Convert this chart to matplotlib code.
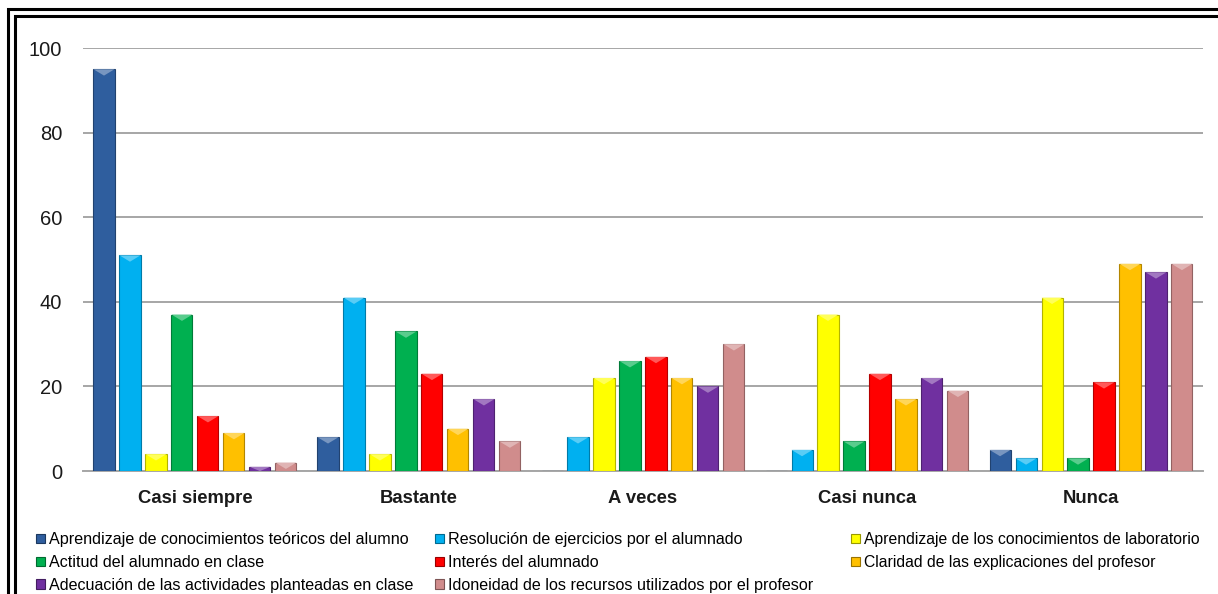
import matplotlib.pyplot as plt
import numpy as np
from matplotlib.patches import Patch, Polygon, Rectangle
from matplotlib.colors import to_rgb

plt.rcParams['font.family'] = ['Liberation Sans', 'DejaVu Sans']

categories = ['Casi siempre', 'Bastante', 'A veces', 'Casi nunca', 'Nunca']
series_names = [
    'Aprendizaje de conocimientos teóricos del alumno',
    'Resolución de ejercicios por el alumnado',
    'Aprendizaje de los conocimientos de laboratorio',
    'Actitud del alumnado en clase',
    'Interés del alumnado',
    'Claridad de las explicaciones del profesor',
    'Adecuación de las actividades planteadas en clase',
    'Idoneidad de los recursos utilizados por el profesor',
]
teoricos = [95, 8, 0, 0, 5]
ejercicios = [51, 41, 8, 5, 3]
laboratorio = [4, 4, 22, 37, 41]
actitud = [37, 33, 26, 7, 3]
interes = [13, 23, 27, 23, 21]
claridad = [9, 10, 22, 17, 49]
adecuacion = [1, 17, 20, 22, 47]
idoneidad = [2, 7, 30, 19, 49]
values = [teoricos, ejercicios, laboratorio, actitud, interes, claridad, adecuacion, idoneidad]
colors = ['#2F5E9E', '#00B0F0', '#FFFF00', '#00B050', '#FF0000', '#FFC000', '#7030A0', '#D08C8C']
yticks = [0, 20, 40, 60, 80, 100]

fig = plt.figure(figsize=(12.18, 5.94), dpi=100)
fig.patch.set_facecolor('white')
ax = fig.add_axes([0.0681, 0.207, 0.9196, 0.712])

x = np.arange(len(categories))
slot = 0.116
width = 0.094


def shade(c, f):
    r, g, b = to_rgb(c)
    return (r * f, g * f, b * f)


def tint(c, f):
    r, g, b = to_rgb(c)
    return (r + (1 - r) * f, g + (1 - g) * f, b + (1 - b) * f)


for i, (vals, col) in enumerate(zip(values, colors)):
    bars = ax.bar(x + (i - 3.5) * slot, vals, width, color=col,
                  edgecolor=shade(col, 0.7), linewidth=0.8, zorder=3)
    for b in bars:
        h = b.get_height()
        if h <= 0:
            continue
        bx, bw = b.get_x(), b.get_width()
        d = min(1.5, h)
        tri = Polygon([(bx, h), (bx + bw, h), (bx + bw / 2, h - d)],
                      closed=True, facecolor=tint(col, 0.35), edgecolor='none', zorder=4)
        ax.add_patch(tri)

ax.set_xlim(-0.5, len(categories) - 0.5)
ax.set_ylim(0, 100)
ax.set_yticks(yticks)
ax.set_yticklabels([str(t) for t in yticks], fontsize=14.5, color='#1a1a1a')
ax.set_xticks(x)
ax.set_xticklabels(categories, fontsize=13.3, fontweight='bold', color='#1a1a1a')
ax.tick_params(axis='y', length=0, pad=15)
ax.tick_params(axis='x', length=0, pad=14)
ax.grid(axis='y', color='#A6A6A6', linewidth=1.4, zorder=0)
for s in ['top', 'right', 'left']:
    ax.spines[s].set_visible(False)
ax.spines['bottom'].set_color('#A6A6A6')
ax.spines['bottom'].set_linewidth(1.4)

# legend in three columns, filled row by row
handles = [Patch(facecolor=c, edgecolor=shade(c, 0.6), linewidth=0.8) for c in colors]
col_x = [36 / 1218, 435 / 1218, 851 / 1218]
col_fs = [11.6, 11.6, 11.3]
for c in range(3):
    idx = list(range(c, len(series_names), 3))
    fig.legend([handles[k] for k in idx], [series_names[k] for k in idx],
               loc='upper left', bbox_to_anchor=(col_x[c], 0.104), ncol=1, frameon=False,
               fontsize=col_fs[c], handlelength=0.55, handleheight=0.55, handletextpad=0.25,
               labelspacing=0.49, borderpad=0, borderaxespad=0)

# double frame around the chart
W, H = 1218, 594
fig.add_artist(Rectangle((8 / W, -0.1), 1.2, (H - 9) / H + 0.1, transform=fig.transFigure,
                         fill=False, edgecolor='black', linewidth=2.2))
fig.add_artist(Rectangle((14.5 / W, -0.1), 1.2, (H - 15.5) / H + 0.1, transform=fig.transFigure,
                         fill=False, edgecolor='black', linewidth=2.2))

fig.savefig('out.png', dpi=100)
